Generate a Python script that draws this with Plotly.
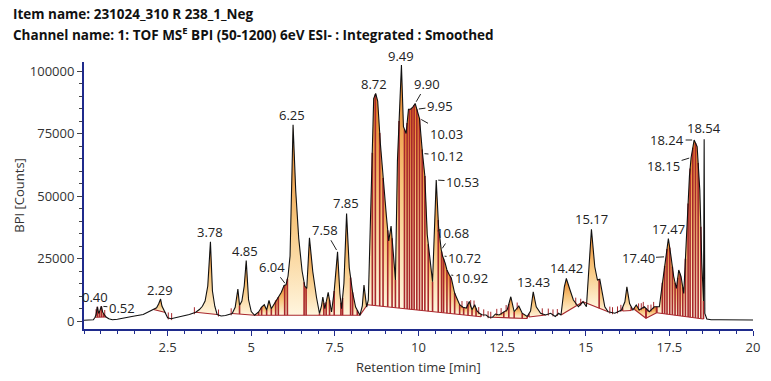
import numpy as np
import plotly.graph_objects as go

# ---------------- data ----------------
rt = [0.00, 0.15, 0.28, 0.33, 0.36, 0.40, 0.44, 0.47, 0.52, 0.56, 0.60, 0.66, 0.74, 0.85,
      1.00, 1.17, 1.47, 1.77, 1.96, 2.08, 2.17, 2.23, 2.29, 2.33, 2.38, 2.44, 2.50, 2.60,
      2.70, 2.85, 3.00, 3.15, 3.34, 3.45, 3.54, 3.62, 3.70, 3.78, 3.84, 3.91, 3.98, 4.10,
      4.23, 4.43, 4.52, 4.60, 4.65, 4.72, 4.79, 4.85, 4.92, 5.00, 5.10, 5.22, 5.31, 5.39,
      5.46, 5.53, 5.60, 5.67, 5.73, 5.81, 5.90, 5.98, 6.04, 6.10, 6.16, 6.25, 6.33, 6.42,
      6.52, 6.60, 6.66, 6.74, 6.84, 6.95, 7.04, 7.10, 7.14, 7.20, 7.30, 7.40, 7.48, 7.58,
      7.65, 7.70, 7.77, 7.85, 7.93, 8.03, 8.12, 8.25, 8.32, 8.37, 8.45, 8.50, 8.59, 8.66,
      8.72, 8.78, 8.86, 8.91, 8.96, 9.04, 9.11, 9.18, 9.26, 9.31, 9.37, 9.49, 9.55, 9.63,
      9.70, 9.76, 9.83, 9.90, 9.95, 10.03, 10.12, 10.19, 10.26, 10.34, 10.42, 10.53, 10.60,
      10.68, 10.72, 10.80, 10.85, 10.92, 10.98, 11.08, 11.23, 11.33, 11.43, 11.52, 11.60,
      11.68, 11.75, 11.82, 11.90, 12.02, 12.10, 12.21, 12.30, 12.41, 12.55, 12.65, 12.76,
      12.86, 13.00, 13.10, 13.25, 13.35, 13.43, 13.52, 13.65, 13.80, 13.95, 14.09, 14.19,
      14.26, 14.36, 14.42, 14.53, 14.63, 14.78, 14.92, 15.02, 15.08, 15.17, 15.27, 15.35,
      15.42, 15.49, 15.57, 15.67, 15.87, 16.07, 16.17, 16.23, 16.31, 16.41, 16.51, 16.60,
      16.75, 16.90, 17.05, 17.20, 17.30, 17.40, 17.47, 17.55, 17.63, 17.71, 17.78, 17.85,
      17.93, 18.02, 18.10, 18.15, 18.24, 18.33, 18.41, 18.47, 18.52, 18.54, 18.56, 18.62,
      18.75, 19.00, 19.50, 20.00]
bpi = [300, 300, 500, 1500, 2500, 5700, 3000, 4000, 5900, 3500, 2500, 1600, 900, 500,
       700, 1200, 1900, 2600, 3800, 4600, 5300, 6800, 8800, 6000, 4700, 3400, 1300, 900,
       1200, 1700, 2200, 2600, 3500, 4600, 5900, 8000, 14000, 31700, 12000, 5900, 2600, 2000,
       2200, 3000, 5500, 12800, 6200, 8000, 14000, 24200, 8500, 3800, 2300, 3600, 5600, 6500,
       4400, 8200, 4900, 6500, 8200, 9600, 11500, 14200, 14500, 18000, 26000, 78500, 52000, 33000,
       20000, 14000, 13000, 33300, 19700, 9500, 3000, 6000, 9600, 4900, 11500, 3600, 12000, 27700,
       11000, 4900, 15000, 43000, 21300, 11500, 5600, 2300, 6000, 14400, 5600, 8400, 51000, 89000,
       91000, 88000, 71000, 62000, 54000, 42000, 32000, 38000, 25000, 16400, 64000, 102400, 77700, 75000,
       84700, 84700, 85500, 87000, 84700, 81000, 67000, 58000, 34700, 24000, 15700, 56400, 37700,
       28400, 26000, 23000, 20400, 18500, 17200, 11200, 6500, 5500, 5200, 7800, 4500,
       6500, 4000, 3100, 2500, 2400, 1500, 1500, 2800, 2400, 3700, 4400, 9700,
       3700, 6000, 3100, 1800, 4000, 11700, 5700, 3100, 2400, 3100, 1800, 3100,
       2400, 13700, 17000, 12400, 8400, 5700, 7700, 5700, 17700, 36700, 21700, 16400,
       16700, 11000, 5700, 3700, 3100, 4400, 7700, 13700, 7000, 4400, 6400, 4400,
       5700, 3700, 5700, 5700, 16400, 25700, 33000, 25700, 17700, 13000, 20400, 17700,
       11000, 36000, 58000, 65400, 72400, 69700, 52400, 23000, 8000, 72700, 3000, 800,
       500, 500, 400, 400]

# integrated regions: peak boundaries (drop lines) and baseline end values
region_bounds = [
    [0.33, 0.40, 0.46, 0.52, 0.58, 0.66],
    [2.08, 2.44],
    [3.34, 3.98],
    [4.43, 4.65, 5.10],
    [5.10, 5.22, 5.31, 5.46, 5.60, 5.73, 5.81, 6.00, 6.08, 6.58, 6.64, 7.04, 7.17, 7.24,
     7.34, 7.48, 7.68, 7.73, 7.97, 8.03, 8.17, 8.25],
    [8.25, 8.47],
    [8.47, 8.62, 8.71, 8.84, 8.94, 9.08, 9.21, 9.31, 9.42, 9.58, 9.66, 9.73, 9.80, 9.87,
     9.95, 10.03, 10.11, 10.19, 10.29, 10.42, 10.59, 10.69, 10.75, 10.85, 10.95, 11.08,
     11.23, 11.35, 11.48, 11.60, 11.72, 11.87],
    [12.21, 12.55, 12.70, 12.86, 13.10, 13.25],
    [13.30, 13.80],
    [14.26, 14.92],
    [14.92, 15.40, 15.67],
    [16.10, 16.36],
    [16.45, 16.80],
    [16.80, 17.12],
    [17.12, 17.29, 17.36, 17.43, 17.51, 17.59, 17.67, 17.75, 17.82, 17.90, 17.98, 18.06,
     18.12, 18.20, 18.28, 18.36, 18.44, 18.52],
]
region_base_start = [1500, 4600, 3500, 3000, 2300, 2300, 6500, 1500, 1600, 2400, 7700, 4000, 4700, 1100, 3300]
region_base_end = [1600, 3400, 2600, 2300, 2300, 6500, 1700, 1000, 2400, 7700, 3700, 4200, 1100, 3300, 800]

# small integration tick marks outside the filled regions
mark_times = [0.36, 0.62, 2.52, 2.62, 3.30, 4.02, 4.40, 11.30, 11.45, 11.56, 11.66, 11.80,
              11.95, 12.08, 12.16, 12.34, 12.47, 12.62, 12.95, 13.70, 13.88, 14.02, 14.15,
              14.70, 14.85, 15.72, 15.80, 15.95, 16.05, 16.58, 16.66, 16.72, 16.86, 16.95, 17.03]

peak_labels = ["0.40", "0.52", "2.29", "3.78", "4.85", "6.04", "6.25", "7.58", "7.85",
               "8.72", "9.49", "9.90", "9.95", "10.03", "10.12", "10.53", "10.68", "10.72",
               "10.92", "13.43", "14.42", "15.17", "17.40", "17.47", "18.15", "18.24", "18.54"]

x_tick_vals = [2.5, 5, 7.5, 10, 12.5, 15, 17.5, 20]
x_tick_text = ["2.5", "5", "7.5", "10", "12.5", "15", "17.5", "20"]
y_tick_vals = [0, 25000, 50000, 75000, 100000]
y_tick_text = ["0", "25000", "50000", "75000", "100000"]

# ---------------- styling ----------------
W, H = 771, 381
ML, MR, MT, MB = 84, 11, 62, 52
PW, PH = W - ML - MR, H - MT - MB
NAVY = "#1f2b8c"
DROP = "#a8272c"
FONT = "Open Sans"
GRAD = dict(type="vertical",
            colorscale=[[0, "#fff6df"], [0.5, "#f8c77e"], [1, "#e67e22"]])

# label placement (mode, dx px, dy px)
LABEL_STYLE = {
    "0.40": ("top", -2, -9.5), "0.52": ("arrow", 20.5, 1.5), "2.29": ("top", -1, -9),
    "3.78": ("top", -0.7, -10), "4.85": ("top", -1, -9.5), "6.04": ("arrow", -13.6, -18),
    "6.25": ("top", -1, -10), "7.58": ("arrow", -12.7, -22), "7.85": ("top", -1, -11),
    "8.72": ("top", -2, -10), "9.49": ("top", 0, -9), "9.90": ("arrow", 11.6, -20),
    "9.95": ("arrow", 23.2, -3), "10.03": ("arrow", 26.5, 15), "10.12": ("arrow", 24, 2),
    "10.53": ("arrow", 26.3, 1.7), "10.68": ("arrow", 11, -17), "10.72": ("arrow", 22, 2),
    "10.92": ("arrow", 22, 3.5), "13.43": ("top", 0, -10), "14.42": ("top", 0, -11),
    "15.17": ("top", 0, -10), "17.40": ("arrow", -28, 1.5), "17.47": ("top", 0.5, -9.5),
    "18.15": ("arrow", -27.5, 8.5), "18.24": ("arrow", -27, 0), "18.54": ("top", 0, -11),
}

t_arr = np.array(rt, dtype=float)
y_arr = np.array(bpi, dtype=float)


def curve_at(t):
    return float(np.interp(t, t_arr, y_arr))


fig = go.Figure()

drop_x, drop_y, base_x, base_y = [], [], [], []
for bounds, b0, b1 in zip(region_bounds, region_base_start, region_base_end):
    a_t, z_t = bounds[0], bounds[-1]

    def base(t, a_t=a_t, z_t=z_t, b0=b0, b1=b1):
        return b0 + (b1 - b0) * (t - a_t) / (z_t - a_t)

    for a, b in zip(bounds[:-1], bounds[1:]):
        inner = [(t, y) for t, y in zip(rt, bpi) if a < t < b]
        xs = [a] + [p[0] for p in inner] + [b, b, a, a]
        ys = [curve_at(a)] + [p[1] for p in inner] + [curve_at(b), base(b), base(a), curve_at(a)]
        fig.add_trace(go.Scatter(x=xs, y=ys, mode="lines", fill="toself", fillgradient=GRAD,
                                 line=dict(width=0), hoverinfo="skip", showlegend=False))
    for t in bounds:
        drop_x += [t, t, None]
        drop_y += [base(t), curve_at(t), None]
    base_x += [a_t, z_t, None]
    base_y += [b0, b1, None]

fig.add_trace(go.Scatter(x=drop_x, y=drop_y, mode="lines", line=dict(color=DROP, width=1.6),
                         hoverinfo="skip", showlegend=False))
fig.add_trace(go.Scatter(x=base_x, y=base_y, mode="lines", line=dict(color=DROP, width=1.2),
                         hoverinfo="skip", showlegend=False))

mx, my = [], []
for t in mark_times:
    c = curve_at(t)
    mx += [t, t, None]
    my += [c - 600, c + 2200, None]
fig.add_trace(go.Scatter(x=mx, y=my, mode="lines", line=dict(color=DROP, width=1),
                         hoverinfo="skip", showlegend=False))

fig.add_trace(go.Scatter(x=rt, y=bpi, mode="lines", line=dict(color="#111111", width=1.1),
                         hoverinfo="skip", showlegend=False))

annotations = []
for lab in peak_labels:
    t = float(lab)
    mode, dx, dy = LABEL_STYLE[lab]
    common = dict(x=t, y=curve_at(t), xref="x", yref="y", text=lab,
                  font=dict(family=FONT, size=13, color="#222222"))
    if mode == "top":
        annotations.append(dict(**common, showarrow=False, xanchor="center", yanchor="middle",
                                xshift=dx, yshift=-dy))
    else:
        annotations.append(dict(**common, showarrow=True, arrowhead=0, arrowwidth=1,
                                arrowcolor="#222222", ax=dx, ay=dy, standoff=2))


def paper_x(px):
    return (px - ML) / PW


def paper_y(py):
    return (H - MB - py) / PH


annotations += [
    dict(xref="paper", yref="paper", x=paper_x(10), y=paper_y(14), xanchor="left", yanchor="middle",
         text="<b>Item name: 231024_310 R 238_1_Neg</b>", showarrow=False,
         font=dict(family=FONT, size=13.5, color="#111111")),
    dict(xref="paper", yref="paper", x=paper_x(10), y=paper_y(34), xanchor="left", yanchor="middle",
         text="<b>Channel name: 1: TOF MS<sup>E</sup> BPI (50-1200) 6eV ESI- : Integrated : Smoothed</b>",
         showarrow=False, font=dict(family=FONT, size=13.5, color="#111111")),
    dict(xref="paper", yref="paper", x=paper_x(18), y=paper_y(195), xanchor="center", yanchor="middle",
         text="BPI [Counts]", textangle=-90, showarrow=False,
         font=dict(family=FONT, size=13, color="#333333")),
    dict(xref="paper", yref="paper", x=0.5, y=paper_y(367), xanchor="center", yanchor="middle",
         text="Retention time [min]", showarrow=False,
         font=dict(family=FONT, size=13, color="#333333")),
]

fig.update_layout(
    width=W, height=H, autosize=False,
    margin=dict(l=ML, r=MR, t=MT, b=MB),
    paper_bgcolor="white", plot_bgcolor="white",
    showlegend=False,
    annotations=annotations,
    xaxis=dict(range=[0, 20], showline=True, linecolor=NAVY, linewidth=2, showgrid=False,
               zeroline=False, ticks="outside", tickmode="array", tickvals=x_tick_vals,
               ticktext=x_tick_text, ticklen=5, tickwidth=1, tickcolor=NAVY,
               tickfont=dict(family=FONT, size=13, color="#333333"),
               minor=dict(tickmode="linear", tick0=0, dtick=0.5, ticklen=3, tickcolor=NAVY,
                          ticks="outside", showgrid=False)),
    yaxis=dict(range=[-3200, 103600], showline=True, linecolor=NAVY, linewidth=2, showgrid=False,
               zeroline=False, ticks="outside", tickmode="array", tickvals=y_tick_vals,
               ticktext=y_tick_text, ticklen=5, tickwidth=1, tickcolor="#444444",
               tickfont=dict(family=FONT, size=13, color="#333333"),
               minor=dict(tickmode="linear", tick0=0, dtick=5000, ticklen=3, tickcolor="#444444",
                          ticks="outside", showgrid=False)),
)

fig.write_html("out.html")
